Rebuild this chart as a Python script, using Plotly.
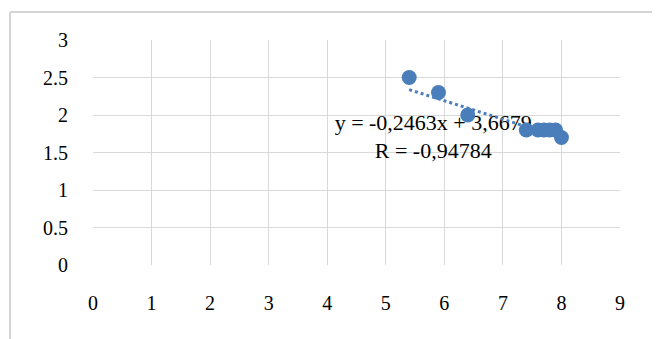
import plotly.graph_objects as go

x_vals = [5.4, 5.9, 6.4, 7.4, 7.6, 7.7, 7.8, 7.9, 8.0]
y_vals = [2.5, 2.3, 2.0, 1.8, 1.8, 1.8, 1.8, 1.8, 1.7]
slope = -0.2463
intercept = 3.6679
eq_text = "y = -0,2463x + 3,6679"
r_text = "R = -0,94784"
x_ticks = [0, 1, 2, 3, 4, 5, 6, 7, 8, 9]
y_ticks = [0, 0.5, 1, 1.5, 2, 2.5, 3]
y_tick_labels = ["0", "0.5", "1", "1.5", "2", "2.5", "3"]

blue = "#4a7ebb"
font_family = "Liberation Serif, Times New Roman, serif"

fig = go.Figure()

# labels first so markers draw on top
fig.add_trace(go.Scatter(x=[5.81], y=[1.87], mode="text", text=[eq_text],
                         textfont=dict(family=font_family, size=22, color="#000"),
                         hoverinfo="skip", showlegend=False))
fig.add_trace(go.Scatter(x=[5.81], y=[1.50], mode="text", text=[r_text],
                         textfont=dict(family=font_family, size=22, color="#000"),
                         hoverinfo="skip", showlegend=False))

x_line = [min(x_vals), max(x_vals)]
y_line = [slope * v + intercept for v in x_line]
fig.add_trace(go.Scatter(x=x_line, y=y_line, mode="lines",
                         line=dict(color=blue, width=3, dash="dot"),
                         hoverinfo="skip", showlegend=False))

fig.add_trace(go.Scatter(x=x_vals, y=y_vals, mode="markers",
                         marker=dict(color=blue, size=15),
                         showlegend=False))

# outer chart-area border
bx0, bx1, by0, by1 = -0.1575, 1.0645, -0.5, 1.125
for (a0, b0, a1, b1) in [(bx0, by1, bx1, by1), (bx0, by0, bx0, by1),
                         (bx1, by0, bx1, by1)]:
    fig.add_shape(type="line", xref="paper", yref="paper",
                  x0=a0, y0=b0, x1=a1, y1=b1,
                  line=dict(color="#d4d4d4", width=2), layer="above")

fig.update_layout(
    width=660, height=339,
    margin=dict(l=85, r=48, t=32, b=82),
    paper_bgcolor="white", plot_bgcolor="white",
    font=dict(family=font_family, size=20, color="#000"),
    xaxis=dict(range=[0, 9], tickvals=x_ticks, showgrid=True, gridcolor="#d9d9d9",
               gridwidth=1, zeroline=False, showline=False, ticks="",
               ticklabelstandoff=24, fixedrange=True),
    yaxis=dict(range=[0, 3], tickvals=y_ticks, ticktext=y_tick_labels, showgrid=True,
               gridcolor="#d9d9d9", gridwidth=1, zeroline=False, showline=False,
               ticks="", ticklabelstandoff=24, fixedrange=True),
)

fig.write_html("out.html")
